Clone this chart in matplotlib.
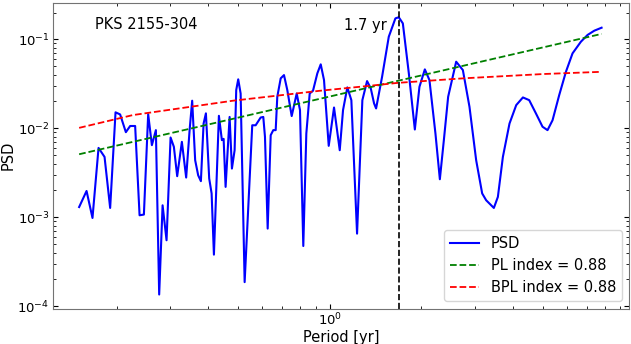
import matplotlib
matplotlib.use("Agg")
import matplotlib.pyplot as plt

# ---- data ----
period = [0.1507, 0.1594, 0.1667, 0.1745, 0.1826, 0.1905, 0.1984, 0.2054, 0.2145, 0.2216,
          0.2301, 0.2379, 0.2458, 0.2539, 0.2611, 0.2691, 0.2759, 0.2831, 0.2917, 0.3007,
          0.3083, 0.3161, 0.3275, 0.3383, 0.3472, 0.3540, 0.3621, 0.3704, 0.3781, 0.3859,
          0.3927, 0.4026, 0.4100, 0.4172, 0.4332, 0.4431, 0.4489, 0.4557, 0.4697, 0.4780,
          0.4878, 0.4938, 0.5013, 0.5105, 0.5262, 0.5436, 0.5573, 0.5718, 0.5939, 0.6058,
          0.6136, 0.6262, 0.6407, 0.6533, 0.6653, 0.6734, 0.6910, 0.7084, 0.7263, 0.7508,
          0.7798, 0.7994, 0.8196, 0.8386, 0.8602, 0.8820, 0.9113, 0.9350, 0.9585, 0.9932,
          1.0338, 1.0794, 1.1066, 1.1432, 1.1784, 1.2303, 1.2806, 1.3269, 1.3646, 1.3991,
          1.4206, 1.4864, 1.5636, 1.6437, 1.6863, 1.7387, 1.8193, 1.9037, 1.9710, 2.0531,
          2.1257, 2.2243, 2.2997, 2.3703, 2.4485, 2.6013, 2.7364, 2.8766, 3.0255, 3.1659,
          3.2628, 3.4583, 3.5649, 3.7022, 3.8922, 4.0949, 4.3073, 4.5165, 4.7514, 4.9947,
          5.1874, 5.3878, 5.6663, 5.9620, 6.2661, 6.6757, 7.0210, 7.3858, 7.8034]
psd = [1.30e-3, 1.97e-3, 9.8e-4, 6.01e-3, 4.76e-3, 1.27e-3, 1.51e-2, 1.43e-2, 9.03e-3, 1.06e-2,
       1.06e-2, 1.05e-3, 1.07e-3, 1.44e-2, 6.45e-3, 9.52e-3, 1.35e-4, 1.36e-3, 5.5e-4, 7.87e-3,
       6.18e-3, 2.89e-3, 7.03e-3, 2.79e-3, 9.52e-3, 2.04e-2, 4.37e-3, 2.96e-3, 2.54e-3, 1.13e-2,
       1.47e-2, 2.72e-3, 1.85e-3, 3.79e-4, 1.38e-2, 7.35e-3, 7.6e-3, 2.19e-3, 1.34e-2, 3.52e-3,
       5.66e-3, 2.69e-2, 3.55e-2, 2.46e-2, 1.86e-4, 1.85e-3, 1.08e-2, 1.08e-2, 1.32e-2, 1.34e-2,
       8.0e-3, 7.44e-4, 8.36e-3, 9.52e-3, 9.52e-3, 2.26e-2, 3.64e-2, 3.96e-2, 2.69e-2, 1.37e-2,
       2.46e-2, 1.60e-2, 4.74e-4, 8.73e-3, 2.46e-2, 2.64e-2, 4.14e-2, 5.23e-2, 3.48e-2, 6.34e-3,
       1.71e-2, 5.66e-3, 1.60e-2, 2.88e-2, 2.07e-2, 6.53e-4, 2.07e-2, 3.39e-2, 2.81e-2, 1.90e-2,
       1.67e-2, 3.79e-2, 0.107, 0.172, 0.177, 0.151, 4.14e-2, 9.68e-3, 2.92e-2, 4.59e-2,
       3.48e-2, 8.73e-3, 2.67e-3, 7.35e-3, 2.26e-2, 5.60e-2, 4.51e-2, 1.74e-2, 4.37e-3, 1.85e-3,
       1.55e-3, 1.27e-3, 1.69e-3, 4.76e-3, 1.13e-2, 1.82e-2, 2.22e-2, 2.07e-2, 1.47e-2, 1.04e-2,
       9.52e-3, 1.23e-2, 2.36e-2, 4.32e-2, 6.95e-2, 9.40e-2, 0.112, 0.125, 0.135]

pl_period = [0.1507, 7.8034]
pl_psd = [5.1e-3, 0.115]

bpl_period = [0.1507, 0.2261, 0.4817, 0.9300, 1.327, 1.677, 2.743, 5.022, 7.8034]
bpl_psd = [0.0101, 0.01406, 0.0204, 0.0264, 0.0298, 0.0324, 0.0364, 0.0407, 0.0431]

peak_period = 1.69
source_name = "PKS 2155-304"
labels = ["PSD", "PL index = 0.88", "BPL index = 0.88"]

# ---- figure ----
fig = plt.figure(figsize=(6.31, 3.44), dpi=100)
ax = fig.add_axes([53/631, 1 - 308.5/344, 576/631, 305.5/344])

ax.plot(period, psd, color="b", lw=1.5, label=labels[0])
ax.plot(pl_period, pl_psd, color="g", ls="--", lw=1.3, label=labels[1])
ax.plot(bpl_period, bpl_psd, color="r", ls="--", lw=1.3, label=labels[2])
ax.axvline(peak_period, color="k", ls="--", lw=1.2)

ax.set_xscale("log")
ax.set_yscale("log")
ax.set_xlim(0.1237, 9.6)
ax.set_ylim(9.4e-5, 0.256)

ax.text(0.0729, 0.914, source_name, transform=ax.transAxes, fontsize=10.5,
        ha="left", va="baseline")
ax.text(0.580, 0.9116, "1.7 yr", transform=ax.transAxes, fontsize=10.5,
        ha="right", va="baseline")

ax.set_xlabel("Period [yr]", fontsize=10.5, labelpad=1)
ax.set_ylabel("PSD", fontsize=10.5, labelpad=1)
ax.tick_params(which="both", direction="in", top=True, right=True, labelsize=9.5, pad=2.5)
for s in ax.spines.values():
    s.set_color("0.45")

ax.legend(loc="lower right", fontsize=10.5)

fig.savefig("out.png", dpi=100)
